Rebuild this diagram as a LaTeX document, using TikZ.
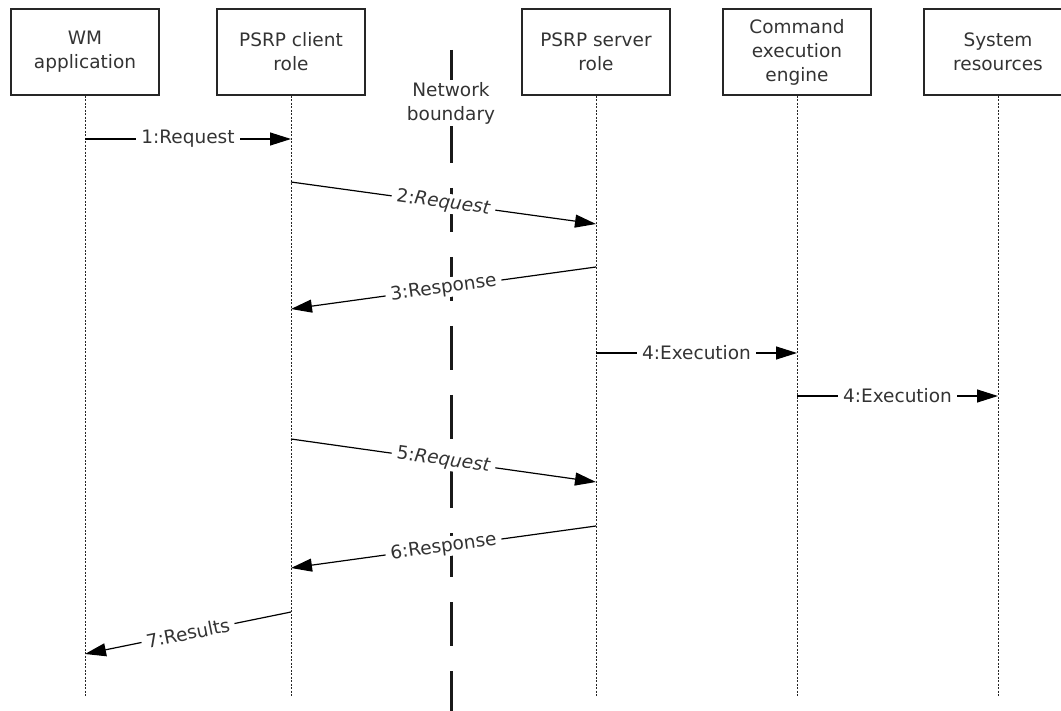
\documentclass[tikz,border=0pt]{standalone}
\usepackage{fontspec}
\setmainfont{DejaVu Sans}
\usetikzlibrary{arrows.meta}
\begin{document}
\begin{tikzpicture}[x=1pt,y=-1pt,
  font=\fontsize{18.5}{24}\selectfont,
  actor/.style={draw=black!85, line width=1.2pt, minimum width=148pt, minimum height=86pt, align=center, text=black!80, inner sep=0pt},
  life/.style={draw=black!85, line width=0.9pt, dash pattern=on 2pt off 1.5pt},
  msg/.style={draw=black, line width=1.2pt, -{Triangle[length=21pt,width=13pt]}},
  lbl/.style={fill=white, text=black!80, inner xsep=5pt, inner ysep=1pt, sloped, midway},
  boundary/.style={draw=black!90, line width=3pt, dash pattern=on 44pt off 25pt}
]
\useasboundingbox (0,0) rectangle (1061,711);
% actors
\node[actor] (wm)  at (85,52)  {WM\\application};
\node[actor] (cli) at (291,52) {PSRP client\\role};
\node[actor] (srv) at (596,52) {PSRP server\\role};
\node[actor] (cmd) at (797,52) {Command\\execution\\engine};
\node[actor] (sys) at (998,52) {System\\resources};
% lifelines
\coordinate (wmE)  at (85,697);
\coordinate (cliE) at (291,697);
\coordinate (srvE) at (596,697);
\coordinate (cmdE) at (797,697);
\coordinate (sysE) at (998,697);
\draw[life] (wm.south) -- (wmE);
\draw[life] (cli.south) -- (cliE);
\draw[life] (srv.south) -- (srvE);
\draw[life] (cmd.south) -- (cmdE);
\draw[life] (sys.south) -- (sysE);
% network boundary
\coordinate (nbTop) at (451,50);
\coordinate (nbBot) at (451,740);
\draw[boundary] (nbTop) -- (nbBot);
\node[fill=white, align=center, text=black!80, inner sep=2pt] (nb) at (451,103) {Network\\boundary};
% message end points
\coordinate (m1a) at (85,139);  \coordinate (m1b) at (291,139);
\coordinate (m2a) at (291,182); \coordinate (m2b) at (596,224);
\coordinate (m3a) at (596,267); \coordinate (m3b) at (291,309);
\coordinate (m4a) at (596,353); \coordinate (m4b) at (797,353);
\coordinate (m4c) at (797,396); \coordinate (m4d) at (998,396);
\coordinate (m5a) at (291,439); \coordinate (m5b) at (596,482);
\coordinate (m6a) at (596,526); \coordinate (m6b) at (291,568);
\coordinate (m7a) at (291,612); \coordinate (m7b) at (85,654);
% messages
\draw[msg] (m1a) -- node[lbl] {1:Request} (m1b);
\draw[msg] (m2a) -- node[lbl] {2:\textit{Request}} (m2b);
\draw[msg] (m3a) -- node[lbl] {3:Response} (m3b);
\draw[msg] (m4a) -- node[lbl] {4:Execution} (m4b);
\draw[msg] (m4c) -- node[lbl] {4:Execution} (m4d);
\draw[msg] (m5a) -- node[lbl] {5:\textit{Request}} (m5b);
\draw[msg] (m6a) -- node[lbl] {6:Response} (m6b);
\draw[msg] (m7a) -- node[lbl] {7:Results} (m7b);
\end{tikzpicture}
\end{document}
